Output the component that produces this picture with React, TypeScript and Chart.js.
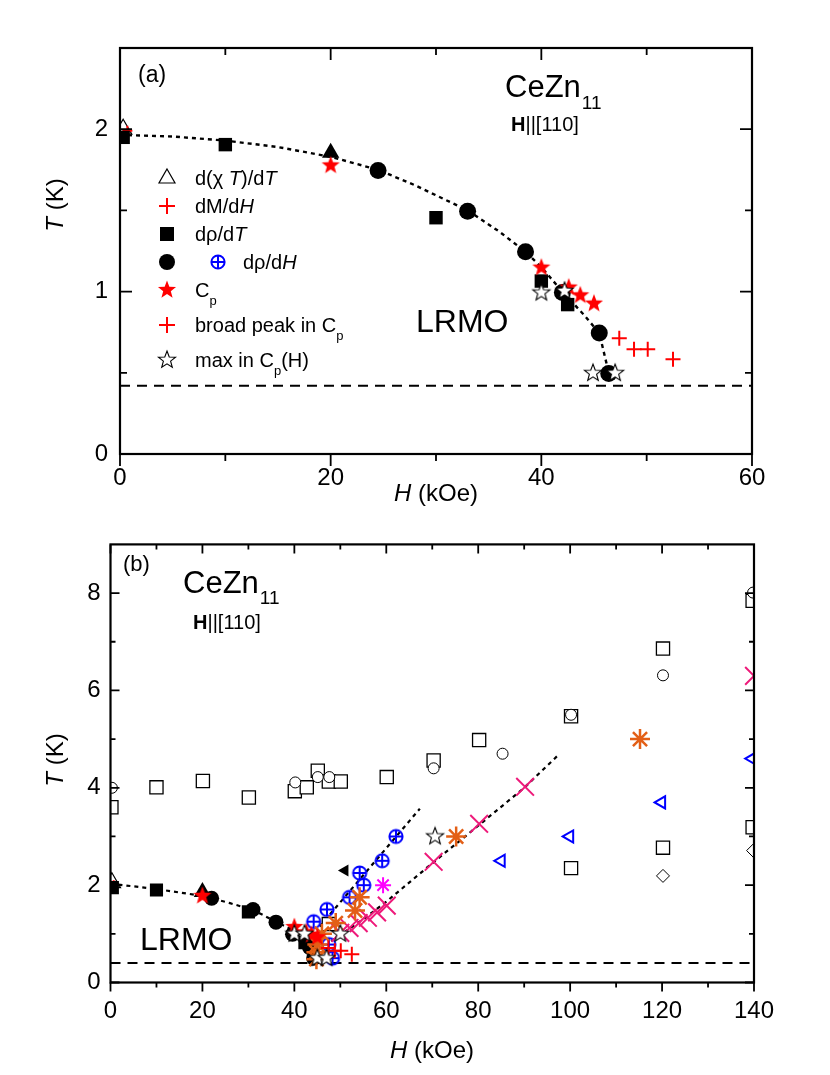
import React, { useEffect, useRef } from 'react';
import { Chart, registerables } from 'chart.js';
Chart.register(...registerables);

const FONT = '"Liberation Sans", Arial, Helvetica, sans-serif';
const RED = '#ff0000';
const BLUE = '#0000ff';
const ORANGE = '#e35f16';
const PINK = '#ee1a7a';
const MAGENTA = '#ff00ff';

// ---------------- Panel (a) ----------------
const A_X_TICKS = [0, 20, 40, 60];
const A_X_MINOR = [10, 30, 50];
const A_Y_TICKS = [0, 1, 2];
const A_Y_MINOR = [0.5, 1.5];

const A_CHI_T = [{ x: 0.3, y: 2.0 }];
const A_DM_DH = [{ x: 0.7, y: 1.99 }];
const A_SOLID_TRI = [{ x: 20, y: 1.855 }];
const A_DRHO_DT = [
  { x: 0.3, y: 1.95 }, { x: 10, y: 1.905 }, { x: 30, y: 1.455 }, { x: 40, y: 1.065 }, { x: 42.5, y: 0.92 },
];
const A_DRHO_DH = [
  { x: 24.5, y: 1.745 }, { x: 33, y: 1.495 }, { x: 38.5, y: 1.245 }, { x: 42, y: 0.995 }, { x: 45.5, y: 0.745 }, { x: 46.4, y: 0.495 },
];
const A_CP = [
  { x: 20, y: 1.777 }, { x: 40, y: 1.148 }, { x: 42.6, y: 1.025 }, { x: 43.7, y: 0.977 }, { x: 45, y: 0.926 },
];
const A_BROAD = [{ x: 47.4, y: 0.713 }, { x: 48.8, y: 0.645 }, { x: 50.1, y: 0.645 }, { x: 52.5, y: 0.584 }];
const A_MAXCP = [{ x: 40, y: 0.994 }, { x: 42.2, y: 1.004 }, { x: 44.9, y: 0.498 }, { x: 47, y: 0.498 }];
const A_FIT = [
  { x: 0, y: 1.965 }, { x: 5, y: 1.955 }, { x: 10, y: 1.93 }, { x: 15, y: 1.89 }, { x: 20, y: 1.83 },
  { x: 24.5, y: 1.75 }, { x: 28, y: 1.655 }, { x: 33, y: 1.5 }, { x: 36, y: 1.37 }, { x: 38.5, y: 1.245 },
  { x: 40, y: 1.15 }, { x: 42, y: 1.0 }, { x: 44, y: 0.86 }, { x: 45.5, y: 0.745 }, { x: 46.4, y: 0.5 },
];
const A_BASE = [{ x: 0, y: 0.42 }, { x: 60, y: 0.42 }];

// ---------------- Panel (b) ----------------
const B_X_TICKS = [0, 20, 40, 60, 80, 100, 120, 140];
const B_X_MINOR = [10, 30, 50, 70, 90, 110, 130];
const B_Y_TICKS = [0, 2, 4, 6, 8];
const B_Y_MINOR = [1, 3, 5, 7];

const B_CHI_T = [{ x: 0.3, y: 2.05 }];
const B_DM_DH = [{ x: 0.7, y: 2.0 }];
const B_SOLID_TRI = [{ x: 20, y: 1.86 }];
const B_SOLID_LTRI = [{ x: 51, y: 2.3 }];
const B_DRHO_DT = [{ x: 0.4, y: 1.95 }, { x: 10, y: 1.9 }, { x: 30, y: 1.45 }, { x: 42.3, y: 0.82 }];
const B_DRHO_DH = [
  { x: 22, y: 1.73 }, { x: 31, y: 1.5 }, { x: 36, y: 1.24 }, { x: 39.6, y: 0.99 }, { x: 43.3, y: 0.72 }, { x: 44.2, y: 0.5 },
];
const B_DRHO_DH_BLUE = [
  { x: 44.2, y: 1.25 }, { x: 47.1, y: 1.5 }, { x: 52, y: 1.75 }, { x: 55.1, y: 2.0 }, { x: 54.2, y: 2.25 },
  { x: 59.1, y: 2.5 }, { x: 62.1, y: 3.0 }, { x: 47.5, y: 0.78 }, { x: 48.3, y: 0.5 },
];
const B_CP = [{ x: 20, y: 1.78 }, { x: 40, y: 1.14 }, { x: 42.6, y: 1.03 }, { x: 43.7, y: 0.98 }, { x: 45, y: 0.93 }];
const B_BROAD = [{ x: 47.4, y: 0.71 }, { x: 48.8, y: 0.65 }, { x: 50.1, y: 0.65 }, { x: 52.5, y: 0.58 }];
const B_MAXCP = [
  { x: 40, y: 1.0 }, { x: 42.2, y: 1.0 }, { x: 45, y: 0.5 }, { x: 47, y: 0.5 }, { x: 50, y: 1.0 }, { x: 70.6, y: 3.0 },
];
const B_ORANGE = [
  { x: 54.2, y: 1.75 }, { x: 53.2, y: 1.48 }, { x: 49, y: 1.22 }, { x: 46, y: 1.0 }, { x: 45, y: 0.78 },
  { x: 44.8, y: 0.62 }, { x: 44.8, y: 0.48 }, { x: 75.2, y: 3.0 }, { x: 115.2, y: 5.0 },
];
const B_MAGENTA = [{ x: 59.3, y: 2.0 }];
const B_PINK_X = [
  { x: 50, y: 1.02 }, { x: 52, y: 1.12 }, { x: 54, y: 1.22 }, { x: 56, y: 1.33 }, { x: 58, y: 1.44 },
  { x: 60.1, y: 1.58 }, { x: 70.3, y: 2.48 }, { x: 80.2, y: 3.26 }, { x: 90.2, y: 4.02 }, { x: 140, y: 6.3 },
];
const B_OPEN_SQ = [
  { x: 0.2, y: 3.6 }, { x: 10, y: 4.01 }, { x: 20.1, y: 4.14 }, { x: 30.1, y: 3.8 }, { x: 40.1, y: 3.93 },
  { x: 42.7, y: 4.01 }, { x: 45.1, y: 4.35 }, { x: 47.5, y: 4.13 }, { x: 50.1, y: 4.13 }, { x: 60.1, y: 4.22 },
  { x: 70.3, y: 4.56 }, { x: 80.2, y: 4.98 }, { x: 100.2, y: 5.47 }, { x: 120.2, y: 6.86 }, { x: 139.7, y: 7.84 },
  { x: 47.5, y: 1.2 }, { x: 100.2, y: 2.35 }, { x: 120.2, y: 2.77 }, { x: 139.7, y: 3.19 },
];
const B_OPEN_CIRC = [
  { x: 0.3, y: 4.0 }, { x: 40.2, y: 4.11 }, { x: 45.1, y: 4.22 }, { x: 47.6, y: 4.22 }, { x: 70.3, y: 4.4 },
  { x: 85.3, y: 4.7 }, { x: 100.2, y: 5.5 }, { x: 120.2, y: 6.31 }, { x: 139.8, y: 8.01 },
];
const B_BLUE_LTRI = [{ x: 85, y: 2.5 }, { x: 99.9, y: 3.0 }, { x: 119.9, y: 3.7 }, { x: 139.6, y: 4.6 }];
const B_DIAMOND = [{ x: 120.2, y: 2.19 }, { x: 139.8, y: 2.71 }];
const B_FIT_LOW = [
  { x: 0, y: 2.03 }, { x: 10, y: 1.92 }, { x: 20, y: 1.78 }, { x: 22, y: 1.73 }, { x: 26, y: 1.63 },
  { x: 31, y: 1.49 }, { x: 36, y: 1.25 }, { x: 40, y: 1.06 }, { x: 43, y: 0.9 },
];
const B_FIT_STEEP = [{ x: 45.5, y: 1.15 }, { x: 67.3, y: 3.57 }];
const B_FIT_SHALLOW = [
  { x: 48, y: 0.85 }, { x: 55, y: 1.3 }, { x: 60, y: 1.66 }, { x: 70, y: 2.45 }, { x: 80, y: 3.22 },
  { x: 90, y: 4.0 }, { x: 97.5, y: 4.68 },
];
const B_BASE = [{ x: 0, y: 0.4 }, { x: 140, y: 0.4 }];

// ---------------- helpers ----------------
function mk(size: number, draw: (c: CanvasRenderingContext2D) => void) {
  const c = document.createElement('canvas');
  c.width = size;
  c.height = size;
  const ctx = c.getContext('2d')!;
  ctx.translate(size / 2, size / 2);
  draw(ctx);
  return c;
}
function starPath(ctx: CanvasRenderingContext2D, R: number, r: number) {
  ctx.beginPath();
  for (let i = 0; i < 10; i++) {
    const a = -Math.PI / 2 + (i * Math.PI) / 5;
    const rr = i % 2 === 0 ? R : r;
    ctx.lineTo(rr * Math.cos(a), rr * Math.sin(a));
  }
  ctx.closePath();
}
function makeImages() {
  return {
    redStar: mk(22, (c) => { starPath(c, 9.5, 4.0); c.fillStyle = RED; c.fill(); }),
    openStar: mk(22, (c) => {
      starPath(c, 9, 3.8); c.fillStyle = '#fff'; c.fill(); c.strokeStyle = '#000'; c.lineWidth = 1.1; c.stroke();
    }),
    oplus: mk(18, (c) => {
      c.strokeStyle = BLUE; c.lineWidth = 2;
      c.beginPath(); c.arc(0, 0, 6.6, 0, Math.PI * 2); c.stroke();
      c.beginPath(); c.moveTo(-6.6, 0); c.lineTo(6.6, 0); c.moveTo(0, -6.6); c.lineTo(0, 6.6); c.stroke();
    }),
  };
}

type Seg = { t: string; i?: boolean; b?: boolean; sub?: boolean };
function segFont(s: Seg, size: number) {
  const fs = s.sub ? Math.round(size * 0.66) : size;
  return `${s.i ? 'italic ' : ''}${s.b ? 'bold ' : ''}${fs}px ${FONT}`;
}
function richWidth(ctx: CanvasRenderingContext2D, segs: Seg[], size: number) {
  let w = 0;
  for (const s of segs) { ctx.font = segFont(s, size); w += ctx.measureText(s.t).width; }
  return w;
}
function rich(ctx: CanvasRenderingContext2D, x: number, y: number, segs: Seg[], size: number, subDy = 0.4) {
  let cx = x;
  for (const s of segs) {
    ctx.font = segFont(s, size);
    ctx.fillText(s.t, cx, y + (s.sub ? size * subDy : 0));
    cx += ctx.measureText(s.t).width;
  }
}

function frame(chart: any, xMaj: number[], xMin: number[], yMaj: number[], yMin: number[], maj: number, min: number) {
  const { ctx, chartArea: a, scales } = chart;
  const xs = scales.x, ys = scales.y;
  ctx.save();
  ctx.strokeStyle = '#000';
  ctx.lineWidth = 2.2;
  ctx.strokeRect(a.left, a.top, a.right - a.left, a.bottom - a.top);
  ctx.lineWidth = 1.8;
  ctx.beginPath();
  const xt = (v: number, L: number) => {
    const p = xs.getPixelForValue(v);
    ctx.moveTo(p, a.bottom); ctx.lineTo(p, a.bottom + L);
    ctx.moveTo(p, a.top); ctx.lineTo(p, a.top + L);
  };
  const yt = (v: number, L: number) => {
    const p = ys.getPixelForValue(v);
    ctx.moveTo(a.left, p); ctx.lineTo(a.left + L, p);
    ctx.moveTo(a.right, p); ctx.lineTo(a.right - L, p);
  };
  xMaj.forEach((v) => xt(v, maj));
  xMin.forEach((v) => xt(v, min));
  yMaj.forEach((v) => yt(v, maj));
  yMin.forEach((v) => yt(v, min));
  ctx.stroke();
  ctx.restore();
}

function axisTitles(ctx: CanvasRenderingContext2D, hx: number, hy: number, tx: number, ty: number) {
  ctx.save();
  ctx.fillStyle = '#000';
  ctx.textBaseline = 'alphabetic';
  const hs: Seg[] = [{ t: 'H', i: true }, { t: ' (kOe)' }];
  const hw = richWidth(ctx, hs, 24);
  rich(ctx, hx - hw / 2, hy, hs, 24);
  ctx.translate(tx, ty);
  ctx.rotate(-Math.PI / 2);
  const ts: Seg[] = [{ t: 'T', i: true }, { t: ' (K)' }];
  const tw = richWidth(ctx, ts, 24);
  ctx.textBaseline = 'middle';
  rich(ctx, -tw / 2, 0, ts, 24);
  ctx.restore();
}

function ptDs(data: any[], o: any) {
  return { data, showLine: false, clip: 0, pointBorderWidth: 0, ...o };
}
function lineDs(data: any[], dash: number[], w: number) {
  return { data, showLine: true, pointRadius: 0, borderColor: '#000', borderWidth: w, borderDash: dash, clip: 0 };
}
function scaleOpts(min: number, max: number, ticks: number[], pad: number, fit: (s: any) => void) {
  return {
    type: 'linear',
    min, max,
    grid: { display: false, drawTicks: false },
    border: { display: false },
    ticks: { font: { family: FONT, size: 24 }, color: '#000', padding: pad },
    afterBuildTicks: (s: any) => { s.ticks = ticks.map((v) => ({ value: v })); },
    afterFit: fit,
  };
}

export default function App() {
  const refA = useRef<HTMLCanvasElement>(null);
  const refB = useRef<HTMLCanvasElement>(null);

  useEffect(() => {
    const IMG = makeImages();

    const pluginA = {
      id: 'decoA',
      afterDraw(chart: any) {
        frame(chart, A_X_TICKS, A_X_MINOR, A_Y_TICKS, A_Y_MINOR, 12, 7);
        const ctx: CanvasRenderingContext2D = chart.ctx;
        ctx.save();
        ctx.fillStyle = '#000';
        ctx.textBaseline = 'alphabetic';
        rich(ctx, 138, 82, [{ t: '(a)' }], 23);
        rich(ctx, 505, 97, [{ t: 'CeZn' }], 31);
        ctx.font = `31px ${FONT}`;
        const cw = ctx.measureText('CeZn').width;
        rich(ctx, 505 + cw + 1, 109, [{ t: '11' }], 19);
        rich(ctx, 511, 131, [{ t: 'H', b: true }, { t: '||[110]' }], 20);
        rich(ctx, 416, 332, [{ t: 'LRMO' }], 32);

        // legend
        const mx = 167;
        const tx = 195;
        const fs = 20;
        const rows = [178, 206, 234, 262, 290, 325, 360];
        // 1 open triangle
        ctx.beginPath();
        ctx.moveTo(mx, rows[0] - 9); ctx.lineTo(mx + 8, rows[0] + 5); ctx.lineTo(mx - 8, rows[0] + 5); ctx.closePath();
        ctx.strokeStyle = '#000'; ctx.lineWidth = 1.2; ctx.stroke();
        // 2 red plus
        const plus = (y: number) => {
          ctx.beginPath(); ctx.strokeStyle = RED; ctx.lineWidth = 2;
          ctx.moveTo(mx - 8, y); ctx.lineTo(mx + 8, y); ctx.moveTo(mx, y - 8); ctx.lineTo(mx, y + 8); ctx.stroke();
        };
        plus(rows[1]);
        // 3 square
        ctx.fillStyle = '#000';
        ctx.fillRect(mx - 7, rows[2] - 7, 14, 14);
        // 4 circle + oplus
        ctx.beginPath(); ctx.arc(mx, rows[3], 8, 0, Math.PI * 2); ctx.fill();
        ctx.drawImage(IMG.oplus, 218 - 9, rows[3] - 9);
        // 5 red star
        ctx.drawImage(IMG.redStar, mx - 11, rows[4] - 11);
        // 6 plus
        plus(rows[5]);
        // 7 open star
        ctx.drawImage(IMG.openStar, mx - 11, rows[6] - 11);

        ctx.fillStyle = '#000';
        const bl = 7;
        rich(ctx, tx, rows[0] + bl, [{ t: 'd(' }, { t: 'χ ' }, { t: 'T', i: true }, { t: ')/d' }, { t: 'T', i: true }], fs);
        rich(ctx, tx, rows[1] + bl, [{ t: 'dM/d' }, { t: 'H', i: true }], fs);
        rich(ctx, tx, rows[2] + bl, [{ t: 'dρ/d' }, { t: 'T', i: true }], fs);
        rich(ctx, 243, rows[3] + bl, [{ t: 'dρ/d' }, { t: 'H', i: true }], fs);
        rich(ctx, tx, rows[4] + bl, [{ t: 'C' }, { t: 'p', sub: true }], fs);
        rich(ctx, tx, rows[5] + bl, [{ t: 'broad peak in C' }, { t: 'p', sub: true }], fs);
        rich(ctx, tx, rows[6] + bl, [{ t: 'max in C' }, { t: 'p', sub: true }, { t: '(H)' }], fs);
        ctx.restore();

        axisTitles(ctx, 436, 501, 56, 205);
      },
    };

    const chartA = new Chart(refA.current!, {
      type: 'scatter',
      data: {
        datasets: [
          ptDs(A_MAXCP, { pointStyle: IMG.openStar, pointRadius: 6 }),
          ptDs(A_BROAD, { pointStyle: 'cross', pointRadius: 7.5, pointBorderColor: RED, pointBorderWidth: 2 }),
          ptDs(A_CP, { pointStyle: IMG.redStar, pointRadius: 6 }),
          ptDs(A_DRHO_DH, { pointStyle: 'circle', pointRadius: 8.5, pointBackgroundColor: '#000' }),
          ptDs(A_DRHO_DT, { pointStyle: 'rect', pointRadius: 9.5, pointBackgroundColor: '#000' }),
          ptDs(A_SOLID_TRI, { pointStyle: 'triangle', pointRadius: 10, pointBackgroundColor: '#000' }),
          ptDs(A_DM_DH, { pointStyle: 'cross', pointRadius: 5, pointBorderColor: RED, pointBorderWidth: 2 }),
          ptDs(A_CHI_T, {
            pointStyle: 'triangle', pointRadius: 10, pointBackgroundColor: '#fff', pointBorderColor: '#000', pointBorderWidth: 1.2,
          }),
          lineDs(A_FIT, [4, 4], 2.4),
          lineDs(A_BASE, [10, 7], 2),
        ] as any,
      },
      options: {
        animation: false,
        responsive: false,
        events: [],
        layout: { padding: { top: 48, right: 78, left: 0, bottom: 0 } },
        plugins: { legend: { display: false }, tooltip: { enabled: false } },
        scales: {
          x: scaleOpts(0, 60, A_X_TICKS, 10, (s: any) => { s.height = 66; }),
          y: scaleOpts(0, 2.5, A_Y_TICKS, 12, (s: any) => { s.width = 120; }),
        } as any,
      },
      plugins: [pluginA],
    });

    const pluginB = {
      id: 'decoB',
      afterDraw(chart: any) {
        frame(chart, B_X_TICKS, B_X_MINOR, B_Y_TICKS, B_Y_MINOR, 9, 5);
        const ctx: CanvasRenderingContext2D = chart.ctx;
        ctx.save();
        ctx.fillStyle = '#000';
        ctx.textBaseline = 'alphabetic';
        rich(ctx, 123, 51, [{ t: '(b)' }], 22);
        rich(ctx, 183, 73, [{ t: 'CeZn' }], 31);
        ctx.font = `31px ${FONT}`;
        const cw = ctx.measureText('CeZn').width;
        rich(ctx, 183 + cw + 1, 84, [{ t: '11' }], 19);
        rich(ctx, 193, 109, [{ t: 'H', b: true }, { t: '||[110]' }], 20);
        rich(ctx, 140, 430, [{ t: 'LRMO' }], 32);
        ctx.restore();
        axisTitles(ctx, 432, 538, 56, 240);
      },
    };

    const chartB = new Chart(refB.current!, {
      type: 'scatter',
      data: {
        datasets: [
          ptDs(B_MAXCP, { pointStyle: IMG.openStar, pointRadius: 6 }),
          ptDs(B_BROAD, { pointStyle: 'cross', pointRadius: 7.5, pointBorderColor: RED, pointBorderWidth: 2 }),
          ptDs(B_CP, { pointStyle: IMG.redStar, pointRadius: 6 }),
          ptDs(B_ORANGE, { pointStyle: 'star', pointRadius: 10, pointBorderColor: ORANGE, pointBorderWidth: 2.5 }),
          ptDs(B_MAGENTA, { pointStyle: 'star', pointRadius: 8, pointBorderColor: MAGENTA, pointBorderWidth: 2 }),
          ptDs(B_PINK_X, { pointStyle: 'crossRot', pointRadius: 12.5, pointBorderColor: PINK, pointBorderWidth: 2 }),
          ptDs(B_DRHO_DH_BLUE, { pointStyle: IMG.oplus, pointRadius: 6 }),
          ptDs(B_DRHO_DH, { pointStyle: 'circle', pointRadius: 7.5, pointBackgroundColor: '#000' }),
          ptDs(B_DRHO_DT, { pointStyle: 'rect', pointRadius: 9.3, pointBackgroundColor: '#000' }),
          ptDs(B_SOLID_TRI, { pointStyle: 'triangle', pointRadius: 10, pointBackgroundColor: '#000' }),
          ptDs(B_SOLID_LTRI, { pointStyle: 'triangle', pointRadius: 7, pointRotation: -90, pointBackgroundColor: '#000' }),
          ptDs(B_DM_DH, { pointStyle: 'cross', pointRadius: 5, pointBorderColor: RED, pointBorderWidth: 2 }),
          ptDs(B_CHI_T, {
            pointStyle: 'triangle', pointRadius: 10, pointBackgroundColor: '#fff', pointBorderColor: '#000', pointBorderWidth: 1.2,
          }),
          ptDs(B_OPEN_CIRC, {
            pointStyle: 'circle', pointRadius: 5.5, pointBackgroundColor: '#fff', pointBorderColor: '#000', pointBorderWidth: 1,
          }),
          ptDs(B_OPEN_SQ, {
            pointStyle: 'rect', pointRadius: 9.3, pointBackgroundColor: '#fff', pointBorderColor: '#000', pointBorderWidth: 1.3,
          }),
          ptDs(B_BLUE_LTRI, {
            pointStyle: 'triangle', pointRadius: 7, pointRotation: -90, pointBackgroundColor: 'rgba(0,0,0,0)',
            pointBorderColor: BLUE, pointBorderWidth: 2,
          }),
          ptDs(B_DIAMOND, {
            pointStyle: 'rectRot', pointRadius: 6.5, pointBackgroundColor: '#fff', pointBorderColor: '#000', pointBorderWidth: 1,
          }),
          lineDs(B_FIT_LOW, [4, 4], 2.2),
          lineDs(B_FIT_STEEP, [4, 4], 2.2),
          lineDs(B_FIT_SHALLOW, [4, 4], 2.2),
          lineDs(B_BASE, [10, 7], 2),
        ] as any,
      },
      options: {
        animation: false,
        responsive: false,
        events: [],
        layout: { padding: { top: 18, right: 76, left: 0, bottom: 0 } },
        plugins: { legend: { display: false }, tooltip: { enabled: false } },
        scales: {
          x: scaleOpts(0, 140, B_X_TICKS, 14, (s: any) => { s.height = 92.5; }),
          y: scaleOpts(0, 9, B_Y_TICKS, 10, (s: any) => { s.width = 110.5; }),
        } as any,
      },
      plugins: [pluginB],
    });

    return () => {
      chartA.destroy();
      chartB.destroy();
    };
  }, []);

  return (
    <div style={{ position: 'absolute', left: 0, top: 0, width: 830, height: 1075, background: '#fff' }}>
      <canvas
        ref={refA}
        width={830}
        height={520}
        style={{ position: 'absolute', left: 0, top: 0, width: 830, height: 520 }}
      />
      <canvas
        ref={refB}
        width={830}
        height={555}
        style={{ position: 'absolute', left: 0, top: 520, width: 830, height: 555 }}
      />
    </div>
  );
}
